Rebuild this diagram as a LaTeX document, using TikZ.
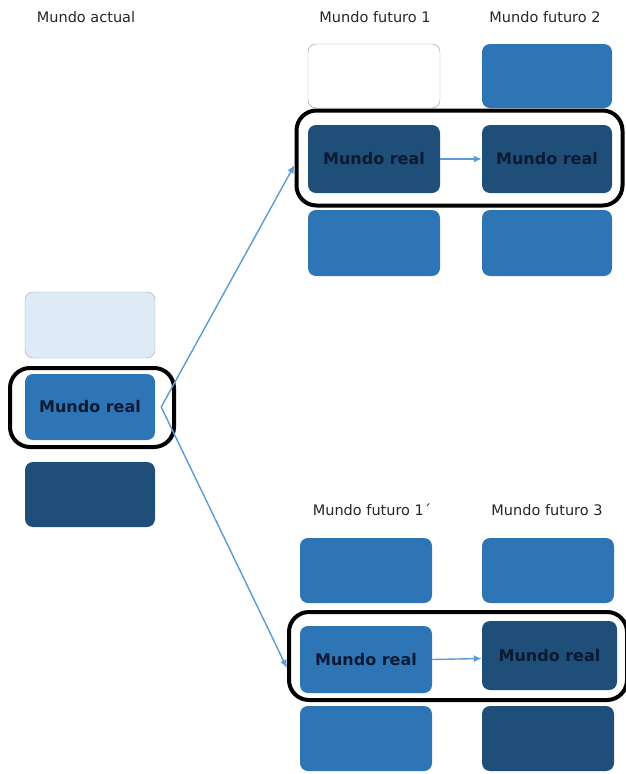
\documentclass[tikz,border=0pt]{standalone}
\usepackage{fontspec}
\setmainfont{DejaVu Sans}
\usetikzlibrary{arrows.meta}
\definecolor{midblue}{HTML}{2E75B6}
\definecolor{darkblue}{HTML}{1F4E79}
\definecolor{paleblue}{HTML}{DEEAF6}
\definecolor{navytext}{HTML}{0B1A33}
\definecolor{linkblue}{HTML}{5B9BD5}
\tikzset{
  box/.style={rounded corners=8pt, minimum width=#1, inner sep=0pt},
  mid/.style={fill=midblue},
  dark/.style={fill=darkblue},
  realtxt/.style={text=navytext, font=\bfseries\fontsize{16}{18}\selectfont},
  heading/.style={font=\fontsize{14.5}{16}\selectfont, text=black!85},
  ring/.style={draw=black, line width=4pt, rounded corners=20pt, inner sep=0pt},
  link/.style={draw=linkblue, line width=1.4pt, -{Latex[length=8pt,width=7pt]}}
}
\begin{document}
\begin{tikzpicture}[x=1pt,y=-1pt]
\useasboundingbox (0,0) rectangle (625,774);

% headings
\node[heading] (hA)  at (86,17)  {Mundo actual};
\node[heading] (hF1) at (375,17) {Mundo futuro 1};
\node[heading] (hF2) at (545,17) {Mundo futuro 2};
\node[heading] (hF1b) at (372,510) {Mundo futuro 1´};
\node[heading] (hF3) at (547,510) {Mundo futuro 3};

% current world column
\node[box=130pt, minimum height=66pt, fill=paleblue, draw=gray!70] (ltop) at (90,325) {};
\node[box=130pt, minimum height=66pt, mid, realtxt] (lmid) at (90,407) {Mundo real};
\node[box=130pt, minimum height=65pt, dark] (lbot) at (90,494.5) {};
\node[ring, minimum width=164pt, minimum height=79pt] (ringL) at (92,407.5) {};

% upper future worlds
\node[box=132pt, minimum height=64pt, draw=gray!80, fill=white] (a1) at (374,76) {};
\node[box=130pt, minimum height=64pt, mid] (b1) at (547,76) {};
\node[box=132pt, minimum height=68pt, dark, realtxt] (a2) at (374,159) {Mundo real};
\node[box=130pt, minimum height=68pt, dark, realtxt] (b2) at (547,159) {Mundo real};
\node[box=132pt, minimum height=66pt, mid] (a3) at (374,243) {};
\node[box=130pt, minimum height=66pt, mid] (b3) at (547,243) {};
\node[ring, minimum width=326pt, minimum height=95pt] (ringT) at (459.5,158) {};

% lower future worlds
\node[box=132pt, minimum height=65pt, mid] (c1) at (366,570.5) {};
\node[box=132pt, minimum height=65pt, mid] (d1) at (548,570.5) {};
\node[box=132pt, minimum height=67pt, mid, realtxt] (c2) at (366,659.5) {Mundo real};
\node[box=135pt, minimum height=69pt, dark, realtxt] (d2) at (549.5,655.5) {Mundo real};
\node[box=132pt, minimum height=65pt, mid] (c3) at (366,738.5) {};
\node[box=132pt, minimum height=65pt, dark] (d3) at (548,738.5) {};
\node[ring, minimum width=338pt, minimum height=88pt] (ringB) at (458,656) {};

% branching connectors
\draw[link] ([xshift=6pt]lmid.east) -- ([yshift=-7pt]ringT.west);
\draw[link] ([xshift=6pt]lmid.east) -- ([yshift=-12pt]ringB.west);
\draw[link] (a2.east) -- (b2.west);
\draw[link] (c2.east) -- ([yshift=-3pt]d2.west);
\end{tikzpicture}
\end{document}
